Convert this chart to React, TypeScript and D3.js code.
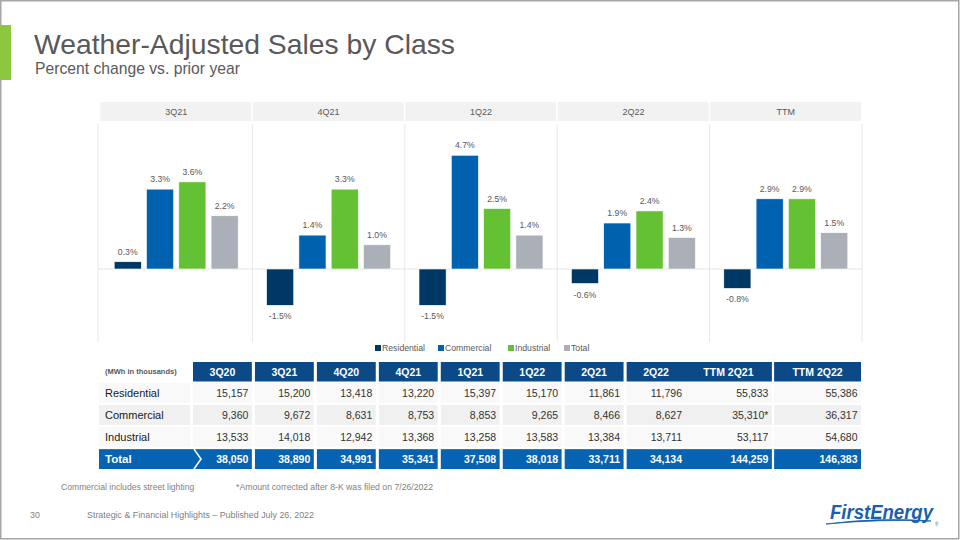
import React from "react";
import * as d3 from "d3";

const periods = ["3Q21", "4Q21", "1Q22", "2Q22", "TTM"];
const seriesNames = ["Residential", "Commercial", "Industrial", "Total"];
const residential = [0.3, -1.5, -1.5, -0.6, -0.8];
const commercial = [3.3, 1.4, 4.7, 1.9, 2.9];
const industrial = [3.6, 3.3, 2.5, 2.4, 2.9];
const totalPct = [2.2, 1.0, 1.4, 1.3, 1.5];
const seriesColors = ["#003865", "#0061ae", "#63c133", "#abb0b8"];

const tableCols = ["3Q20", "3Q21", "4Q20", "4Q21", "1Q21", "1Q22", "2Q21", "2Q22", "TTM 2Q21", "TTM 2Q22"];
const rowLabels = ["Residential", "Commercial", "Industrial", "Total"];
const resVals = ["15,157", "15,200", "13,418", "13,220", "15,397", "15,170", "11,861", "11,796", "55,833", "55,386"];
const comVals = ["9,360", "9,672", "8,631", "8,753", "8,853", "9,265", "8,466", "8,627", "35,310*", "36,317"];
const indVals = ["13,533", "14,018", "12,942", "13,368", "13,258", "13,583", "13,384", "13,711", "53,117", "54,680"];
const totVals = ["38,050", "38,890", "34,991", "35,341", "37,508", "38,018", "33,711", "34,134", "144,259", "146,383"];

const FONT = "'Liberation Sans', Arial, sans-serif";

export default function App() {
  const values = [residential, commercial, industrial, totalPct];
  const x = d3.scaleBand().domain(periods).range([100, 862]).padding(0);
  const inner = d3
    .scaleBand()
    .domain(seriesNames)
    .range([0, x.bandwidth()])
    .paddingInner(0.16)
    .paddingOuter(0.44);
  const y = d3.scaleLinear().domain([-3, 5]).range([269 + 3 * 24.2, 269 - 5 * 24.2]);
  const fmt = (v: number) => `${v.toFixed(1)}%`;

  // table layout
  const qCols = tableCols.slice(0, 8);
  const ttmCols = tableCols.slice(8);
  const qx = d3.scaleBand().domain(qCols).range([193, 685.5]).paddingInner(0.05).paddingOuter(0);
  const tx = d3.scaleBand().domain(ttmCols).range([685, 861]).paddingInner(0.025).paddingOuter(0);
  const colX = (c: string) => (qCols.includes(c) ? (qx(c) as number) : (tx(c) as number));
  const colW = (c: string) => (qCols.includes(c) ? qx.bandwidth() : tx.bandwidth());
  const rowY = d3.scaleBand().domain(rowLabels).range([383, 469]).paddingInner(0.1);
  const rowVals = [resVals, comVals, indVals, totVals];
  const rowBg = ["#f9f9f9", "#f0f0f0", "#f9f9f9"];

  const legendX = [375, 438, 508, 564];

  return (
    <svg
      width={960}
      height={540}
      style={{ position: "absolute", left: 0, top: 0, fontFamily: FONT }}
    >
      <rect x={0} y={0} width={960} height={540} fill="#ffffff" />
      <rect x={0.75} y={0.75} width={958} height={538} fill="none" stroke="#a6a6a6" strokeWidth={1.5} />
      <rect x={0} y={25} width={11} height={55} fill="#8dc740" />
      <text x={34} y={54} fontSize={28} fill="#595959" textLength={421} lengthAdjust="spacingAndGlyphs">
        Weather-Adjusted Sales by Class
      </text>
      <text x={35} y={74} fontSize={15.7} fill="#595959">
        Percent change vs. prior year
      </text>

      {/* panel headers */}
      {periods.map((p) => (
        <g key={p}>
          <rect x={(x(p) as number) + 0.5} y={102} width={x.bandwidth() - 1.5} height={19} fill="#f2f2f2" />
          <text
            x={(x(p) as number) + x.bandwidth() / 2}
            y={114.5}
            fontSize={9}
            fill="#595959"
            textAnchor="middle"
          >
            {p}
          </text>
        </g>
      ))}
      {/* separators */}
      {periods.concat(["end"]).map((p, i) => {
        const xx = i < periods.length ? (x(p) as number) - (i === 0 ? 2 : 0) : 862;
        return <line key={p} x1={xx} x2={xx} y1={124} y2={342} stroke="#e8e8e8" strokeWidth={1} />;
      })}
      <line x1={98} x2={862} y1={y(0)} y2={y(0)} stroke="#e3e3e3" strokeWidth={1} />

      {/* bars */}
      {periods.map((p, i) => (
        <g key={p} transform={`translate(${x(p)},0)`}>
          {seriesNames.map((s, j) => {
            const v = values[j][i];
            const bx = inner(s) as number;
            const y0 = y(Math.max(0, v));
            const y1 = y(Math.min(0, v));
            return (
              <g key={s}>
                <rect
                  x={bx}
                  y={y0}
                  width={inner.bandwidth()}
                  height={y1 - y0}
                  fill={seriesColors[j]}
                  stroke="#ffffff"
                  strokeWidth={0.6}
                />
                <text
                  x={bx + inner.bandwidth() / 2}
                  y={v >= 0 ? y0 - 7 : y1 + 14}
                  fontSize={8.7}
                  fill="#595959"
                  textAnchor="middle"
                >
                  {fmt(v)}
                </text>
              </g>
            );
          })}
        </g>
      ))}

      {/* legend */}
      {seriesNames.map((s, j) => (
        <g key={s}>
          <rect x={legendX[j]} y={345} width={6} height={6} fill={seriesColors[j]} />
          <text x={legendX[j] + 7} y={351} fontSize={8.7} fill="#595959">
            {s}
          </text>
        </g>
      ))}

      {/* table */}
      <text x={105} y={374} fontSize={7.5} fontWeight="bold" fill="#595959">
        (MWh in thousands)
      </text>
      {tableCols.map((c) => (
        <g key={c}>
          <rect x={colX(c)} y={362} width={colW(c)} height={19.5} fill="#0b4a86" />
          <text
            x={colX(c) + colW(c) / 2}
            y={375.8}
            fontSize={10.5}
            fontWeight="bold"
            fill="#ffffff"
            textAnchor="middle"
          >
            {c}
          </text>
        </g>
      ))}
      {rowLabels.map((r, ri) => {
        const ry = rowY(r) as number;
        const rh = rowY.bandwidth();
        const isTotal = r === "Total";
        return (
          <g key={r}>
            {isTotal ? (
              <rect x={99} y={ry} width={96} height={rh} fill="#0563b1" />
            ) : (
              <rect x={99} y={ry} width={91} height={rh} fill={rowBg[ri]} />
            )}
            <text
              x={105}
              y={ry + rh / 2 + 4}
              fontSize={isTotal ? 11.5 : 11}
              fontWeight={isTotal ? "bold" : "normal"}
              fill={isTotal ? "#ffffff" : "#1a1a1a"}
            >
              {r}
            </text>
            {tableCols.map((c, ci) => (
              <g key={c}>
                <rect
                  x={colX(c)}
                  y={ry}
                  width={colW(c)}
                  height={rh}
                  fill={isTotal ? "#0563b1" : rowBg[ri]}
                />
                <text
                  x={colX(c) + colW(c) - 3.5}
                  y={ry + rh / 2 + 4}
                  fontSize={10.5}
                  fontWeight={isTotal ? "bold" : "normal"}
                  fill={isTotal ? "#ffffff" : "#333333"}
                  textAnchor="end"
                >
                  {rowVals[ri][ci]}
                </text>
              </g>
            ))}
            {isTotal && (
              <polyline
                points={`${194},${ry} ${201},${ry + rh / 2} ${194},${ry + rh}`}
                fill="none"
                stroke="#ffffff"
                strokeWidth={1.6}
              />
            )}
          </g>
        );
      })}

      {/* footnotes */}
      <text x={61} y={490} fontSize={8.6} fill="#7f7f7f">
        Commercial includes street lighting
      </text>
      <text x={236} y={490} fontSize={8.7} fill="#7f7f7f">
        *Amount corrected after 8-K was filed on 7/26/2022
      </text>
      <text x={30} y={518} fontSize={8.8} fill="#7f7f7f">
        30
      </text>
      <text x={87} y={518} fontSize={8.9} fill="#7f7f7f">
        Strategic &amp; Financial Highlights – Published July 26, 2022
      </text>

      {/* logo */}
      <text
        x={830}
        y={519}
        fontSize={21}
        fontWeight="bold"
        fontStyle="italic"
        fill="#1a5fae"
        textLength={103}
        lengthAdjust="spacingAndGlyphs"
      >
        FirstEnergy
      </text>
      <path d="M826,524 Q880,517 931,521 Q880,519 826,524 Z" fill="#1a5fae" stroke="#1a5fae" strokeWidth={0.8} />
      <text x={935} y={526} fontSize={4.5} fill="#1a5fae">
        ®
      </text>
    </svg>
  );
}
